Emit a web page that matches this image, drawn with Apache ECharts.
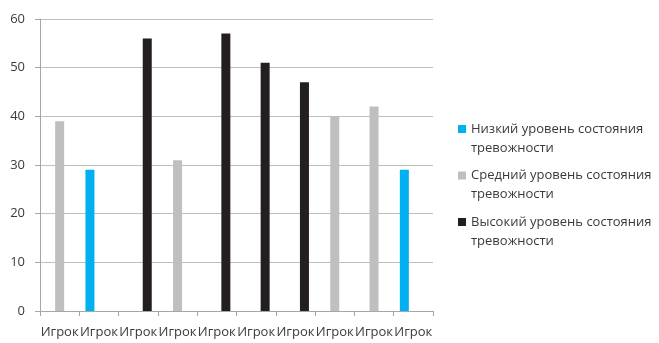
<!DOCTYPE html>
<html>
<head>
<meta charset="utf-8">
<script src="https://cdn.jsdelivr.net/npm/echarts@6/dist/echarts.min.js"></script>
<style>
  html, body { margin: 0; padding: 0; background: #fff; }
  #chart { width: 659px; height: 343px; }
</style>
</head>
<body>
<div id="chart"></div>
<script>
// Categories along the x axis
const categories = ['Игрок', 'Игрок', 'Игрок', 'Игрок', 'Игрок', 'Игрок', 'Игрок', 'Игрок', 'Игрок', 'Игрок'];

// Series names
const seriesNames = [
  'Низкий уровень состояния тревожности',
  'Средний уровень состояния тревожности',
  'Высокий уровень состояния тревожности'
];

// Values per player (null = no bar in that group)
const lowValues  = [null, 29, null, null, null, null, null, null, null, 29];
const midValues  = [39, null, null, 31, null, null, null, 40, 42, null];
const highValues = [null, null, 56, null, 57, 51, 47, null, null, null];

// Y axis ticks
const yMin = 0, yMax = 60, yStep = 10;

const colors = ['#00b0f0', '#bfbfc1', '#231f20'];
const fontFamily = '"Open Sans", "Noto Sans", sans-serif';
const textColor = '#3a3a3a';

const chart = echarts.init(document.getElementById('chart'), null, { renderer: 'canvas' });

const makeSeries = (name, data, color) => ({
  name: name,
  type: 'bar',
  data: data,
  barWidth: 9,
  barGap: '0%',
  itemStyle: { color: color },
  emphasis: { disabled: true },
  animation: false
});

const legendLine = { fontFamily: fontFamily, fontSize: 13, lineHeight: 19, color: textColor };

chart.setOption({
  animation: false,
  color: colors,
  grid: { left: 40, right: 226, top: 19, bottom: 32, containLabel: false },
  legend: {
    orient: 'vertical',
    left: 453,
    top: 95.5,
    itemWidth: 8,
    itemHeight: 8,
    itemGap: -10.5,
    icon: 'rect',
    selectedMode: false,
    // A blank first line keeps the marker level with the first text line
    formatter: function (name) {
      const cut = name.lastIndexOf(' ');
      return '{s| }\n{t|' + name.slice(0, cut) + '}\n{t|' + name.slice(cut + 1) + '}';
    },
    textStyle: {
      fontFamily: fontFamily,
      fontSize: 13,
      color: textColor,
      lineHeight: 19,
      rich: { s: legendLine, t: legendLine }
    },
    data: seriesNames
  },
  xAxis: {
    type: 'category',
    data: categories,
    axisLine: { show: true, lineStyle: { color: '#a6a6a6', width: 1 } },
    axisTick: { show: true, alignWithLabel: false, length: 5, lineStyle: { color: '#a6a6a6' } },
    axisLabel: {
      interval: 0,
      margin: 15,
      fontFamily: fontFamily,
      fontSize: 13,
      color: textColor
    },
    splitLine: { show: false }
  },
  yAxis: {
    type: 'value',
    min: yMin,
    max: yMax,
    interval: yStep,
    axisLine: { show: true, lineStyle: { color: '#a6a6a6', width: 1 } },
    axisTick: { show: true, length: 5, lineStyle: { color: '#a6a6a6' } },
    axisLabel: {
      margin: 15,
      fontFamily: fontFamily,
      fontSize: 13,
      color: textColor
    },
    splitLine: { show: true, lineStyle: { color: '#bfbfbf', width: 1 } }
  },
  series: [
    makeSeries(seriesNames[0], lowValues, colors[0]),
    makeSeries(seriesNames[1], midValues, colors[1]),
    makeSeries(seriesNames[2], highValues, colors[2])
  ]
});
</script>
</body>
</html>
